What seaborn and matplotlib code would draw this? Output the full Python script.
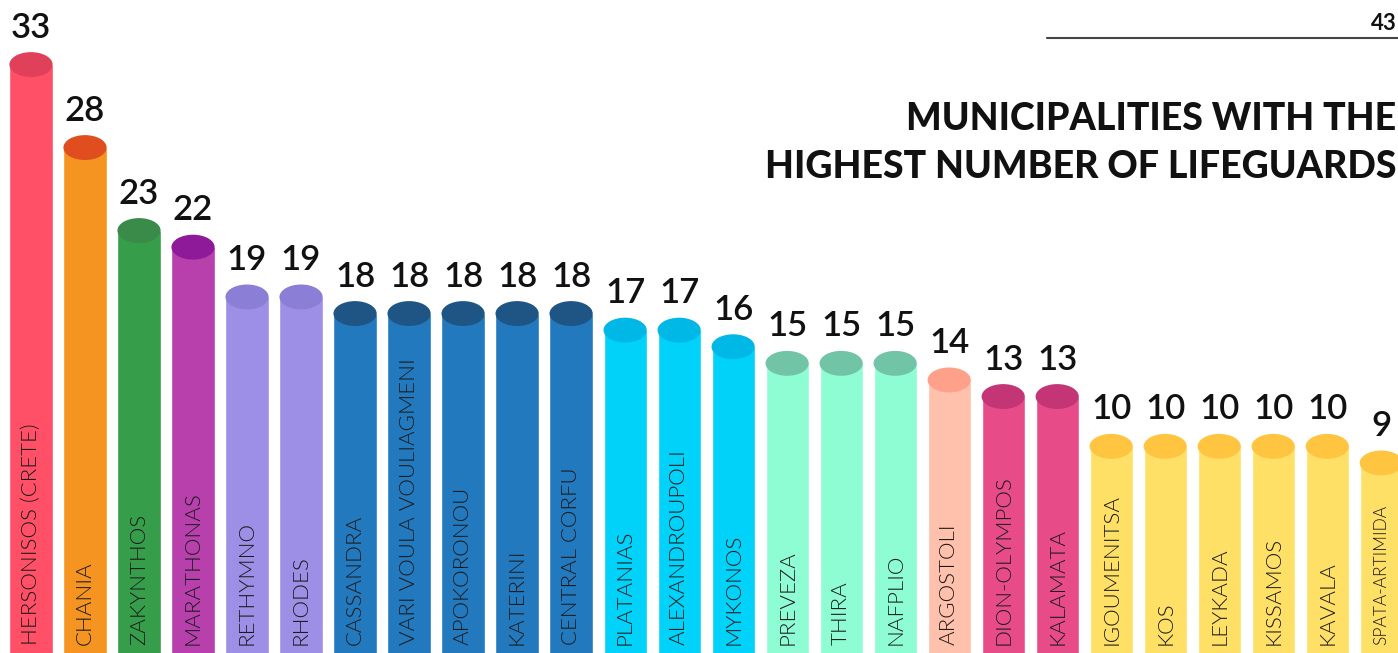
import matplotlib
matplotlib.use("Agg")
import matplotlib.pyplot as plt
import matplotlib.transforms as mtransforms
from matplotlib.patches import Ellipse
from matplotlib.lines import Line2D
import seaborn as sns
import pandas as pd

municipalities = ["HERSONISOS (CRETE)", "CHANIA", "ZAKYNTHOS", "MARATHONAS", "RETHYMNO",
                  "RHODES", "CASSANDRA", "VARI VOULA VOULIAGMENI", "APOKORONOU", "KATERINI",
                  "CENTRAL CORFU", "PLATANIAS", "ALEXANDROUPOLI", "MYKONOS", "PREVEZA",
                  "THIRA", "NAFPLIO", "ARGOSTOLI", "DION-OLYMPOS", "KALAMATA",
                  "IGOUMENITSA", "KOS", "LEYKADA", "KISSAMOS", "KAVALA", "SPATA-ARTIMIDA"]
lifeguards = [33, 28, 23, 22, 19, 19, 18, 18, 18, 18, 18, 17, 17, 16, 15, 15, 15, 14, 13, 13,
              10, 10, 10, 10, 10, 9]
body_colors = ["#FF5068", "#F59420", "#369E4A", "#B840AC", "#9E8FE6", "#9E8FE6",
               "#2279BE", "#2279BE", "#2279BE", "#2279BE", "#2279BE",
               "#00D2FA", "#00D2FA", "#00D2FA",
               "#8EFDD4", "#8EFDD4", "#8EFDD4", "#FFC0AC", "#E84C88", "#E84C88",
               "#FFE066", "#FFE066", "#FFE066", "#FFE066", "#FFE066", "#FFE066"]
cap_colors = ["#E0405A", "#E04E20", "#3A8A4A", "#8E1A9A", "#8A7ED6", "#8A7ED6",
              "#1F5585", "#1F5585", "#1F5585", "#1F5585", "#1F5585",
              "#00B8E6", "#00B8E6", "#00B8E6",
              "#72C4A6", "#72C4A6", "#72C4A6", "#FFA08A", "#C43576", "#C43576",
              "#FFC540", "#FFC540", "#FFC540", "#FFC540", "#FFC540", "#FFC540"]
title_lines = ["MUNICIPALITIES WITH THE", "HIGHEST NUMBER OF LIFEGUARDS"]
page_number = "43"

sns.set_theme(style="white")
plt.rcParams["font.family"] = ["Lato", "DejaVu Sans"]

fig = plt.figure(figsize=(13.98, 6.53), dpi=100)
fig.patch.set_facecolor("white")
ax = fig.add_axes([0, 0, 1, 1])

df = pd.DataFrame({"municipality": municipalities, "lifeguards": lifeguards})
sns.barplot(data=df, x="municipality", y="lifeguards", hue="municipality",
            palette=body_colors, legend=False, width=0.8, saturation=1,
            ax=ax, zorder=2)

ax.set_xlim(-0.574, 25.31)
ax.set_ylim(-2.45, 36.89)
ax.axis("off")

ext = 5
bars = [p for p in ax.patches]
trans_lab = mtransforms.blended_transform_factory(ax.transData, ax.transAxes)
for i, (p, name, v, cap) in enumerate(zip(bars, municipalities, lifeguards, cap_colors)):
    h = p.get_height()
    p.set_y(-ext)
    p.set_height(h + ext)
    xc = p.get_x() + p.get_width() / 2
    ax.add_patch(Ellipse((xc, v), p.get_width(), 1.5, facecolor=cap,
                         edgecolor="none", zorder=3))
    ax.annotate(str(v), (xc, v), xytext=(0, 27), textcoords="offset pixels",
                ha="center", va="baseline", fontsize=25, color="#111111",
                fontweight="semibold")
    fs = 12.5 if i == len(municipalities) - 1 else 16
    ax.text(xc, 0.012, name, transform=trans_lab, rotation=90, ha="center",
            va="bottom", fontsize=fs, color="#1a1a1a", fontweight=300, zorder=4)

fig.text(0.999, 0.801, title_lines[0], ha="right", va="baseline", fontsize=27,
         fontweight="black", color="#111111")
fig.text(0.999, 0.727, title_lines[1], ha="right", va="baseline", fontsize=27,
         fontweight="black", color="#111111")
fig.text(0.999, 0.954, page_number, ha="right", va="baseline", fontsize=16,
         fontweight="bold", color="#111111")
fig.add_artist(Line2D([0.749, 1.0], [0.942, 0.942], color="#444444", lw=1.5))

fig.savefig("out.png", dpi=100)
